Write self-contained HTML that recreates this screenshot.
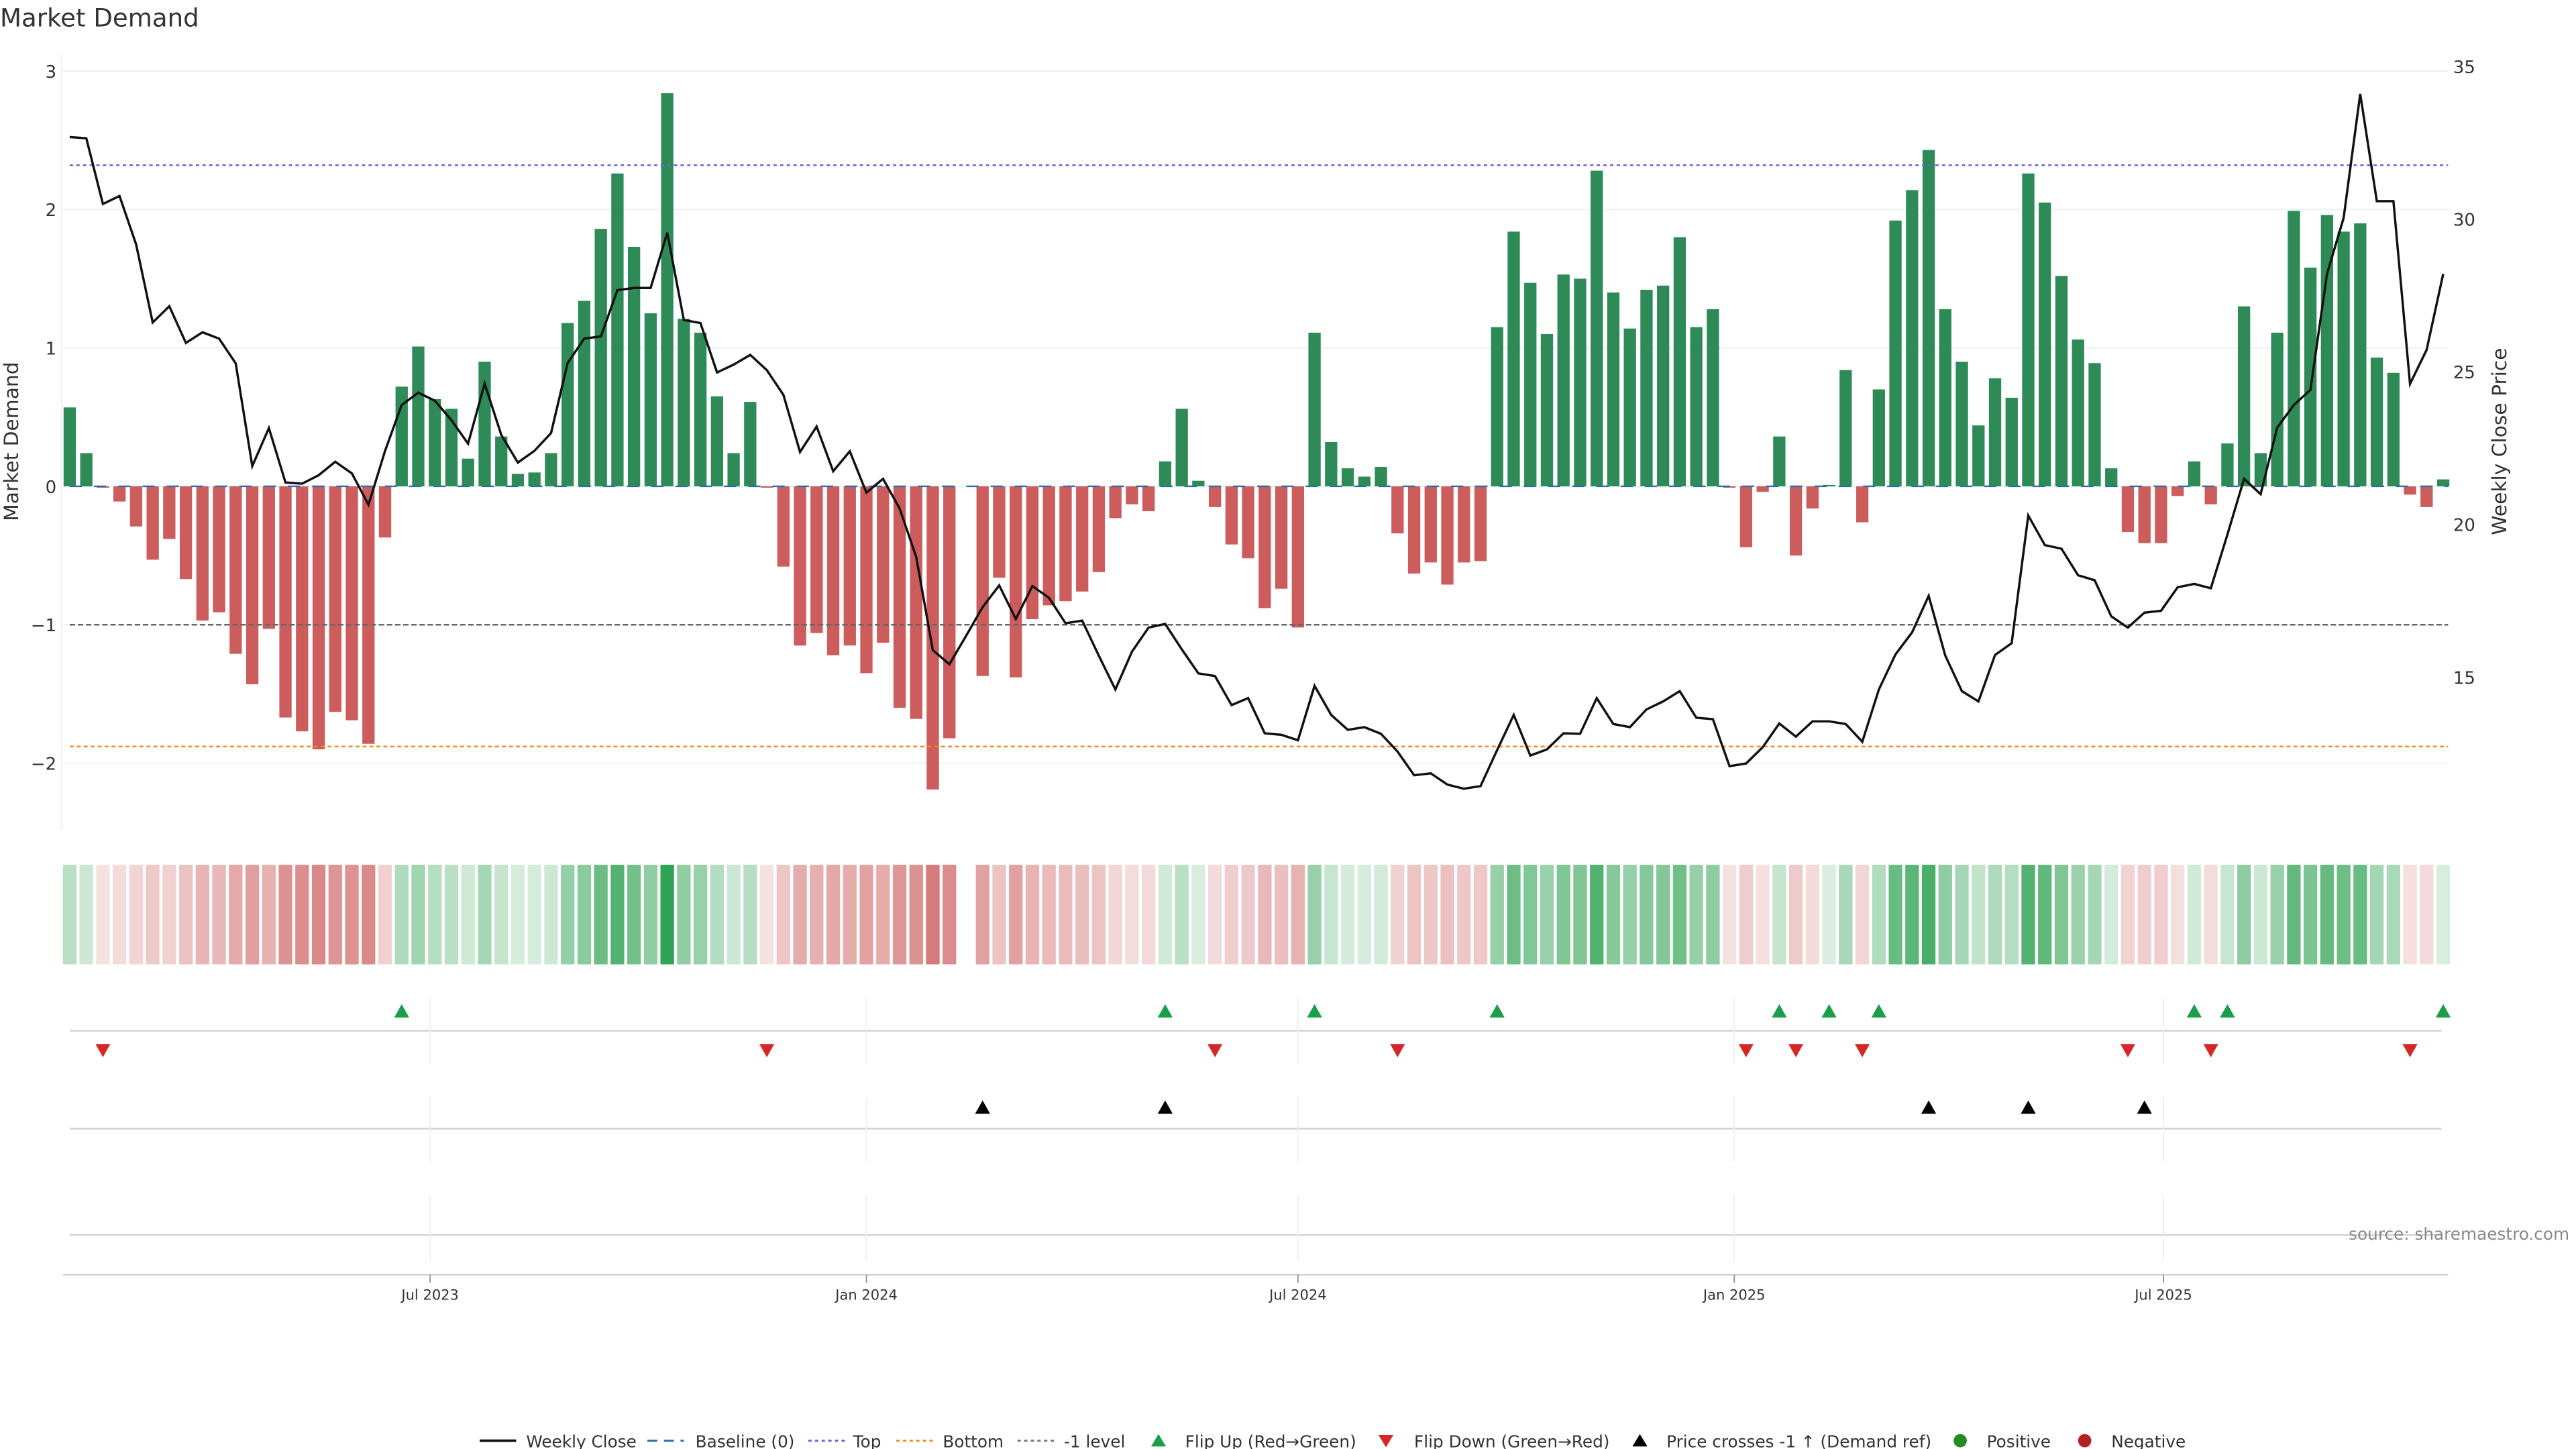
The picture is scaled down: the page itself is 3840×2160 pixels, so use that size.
<!DOCTYPE html>
<html><head><meta charset="utf-8"><title>Market Demand</title>
<style>
html,body{margin:0;padding:0;background:#fff;}
svg{display:block;font-family:"DejaVu Sans","Liberation Sans",sans-serif;}
</style></head>
<body>
<svg id="chart" width="3840" height="2160" viewBox="0 0 1552 873" preserveAspectRatio="none" xmlns="http://www.w3.org/2000/svg">
<rect x="0" y="0" width="1552" height="873" fill="#fff"/>
<text x="0" y="16" font-size="15" fill="#333">Market Demand</text>
<g id="grid"></g><g id="lower"></g><g id="bars"></g><g id="refs"></g><g id="line"></g><g id="heat"></g><g id="marks"></g><g id="axes"></g>
<text transform="translate(11,266) rotate(-90)" text-anchor="middle" font-size="12" fill="#333">Market Demand</text>
<text transform="translate(1510,266) rotate(-90)" text-anchor="middle" font-size="12" fill="#333">Weekly Close Price</text>
<text x="1548" y="747" text-anchor="end" font-size="10" fill="#888">source: sharemaestro.com</text>
<g id="legend"></g>
</svg>
<script>
const demand = [0.57,0.24,-0.01,-0.11,-0.29,-0.53,-0.38,-0.67,-0.97,-0.91,-1.21,-1.43,-1.03,-1.67,-1.77,-1.90,-1.63,-1.69,-1.86,-0.37,
0.72,1.01,0.63,0.56,0.20,0.90,0.36,0.09,0.10,0.24,1.18,1.34,1.86,2.26,1.73,1.25,2.84,1.21,1.11,0.65,0.24,0.61,-0.01,-0.58,-1.15,-1.06,-1.22,-1.15,-1.35,-1.13,
-1.60,-1.68,-2.19,-1.82,null,-1.37,-0.66,-1.38,-0.96,-0.86,-0.83,-0.76,-0.62,-0.23,-0.13,-0.18,0.18,0.56,0.04,-0.15,-0.42,-0.52,-0.88,-0.74,-1.02,1.11,0.32,0.13,0.07,0.14,
-0.34,-0.63,-0.55,-0.71,-0.55,-0.54,1.15,1.84,1.47,1.10,1.53,1.50,2.28,1.40,1.14,1.42,1.45,1.80,1.15,1.28,-0.01,-0.44,-0.04,0.36,-0.50,-0.16,0.01,0.84,-0.26,0.70,
1.92,2.14,2.43,1.28,0.90,0.44,0.78,0.64,2.26,2.05,1.52,1.06,0.89,0.13,-0.33,-0.41,-0.41,-0.07,0.18,-0.13,0.31,1.30,0.24,1.11,1.99,1.58,1.96,1.84,1.90,0.93,0.82,-0.06,-0.15,0.05];
const price = [32.74,32.70,30.55,30.81,29.23,26.67,27.20,26.00,26.35,26.14,25.33,21.97,23.21,21.43,21.39,21.67,22.11,21.73,20.70,22.47,
23.97,24.37,24.11,23.47,22.70,24.67,22.99,22.08,22.47,23.05,25.34,26.14,26.21,27.73,27.80,27.80,29.61,26.75,26.65,25.03,25.29,25.61,25.11,24.30,22.43,23.26,21.80,22.45,21.10,21.55,
20.58,18.99,15.94,15.48,16.40,17.35,18.06,16.96,18.04,17.65,16.82,16.91,15.76,14.65,15.89,16.68,16.80,15.97,15.18,15.09,14.14,14.37,13.22,13.17,12.99,14.77,13.82,13.33,13.42,13.20,
12.62,11.84,11.91,11.54,11.40,11.49,12.67,13.82,12.49,12.69,13.22,13.20,14.37,13.52,13.42,14.00,14.26,14.60,13.73,13.68,12.14,12.23,12.76,13.54,13.11,13.61,13.61,13.52,12.94,14.65,
15.80,16.52,17.72,15.76,14.60,14.26,15.78,16.17,20.35,19.38,19.26,18.39,18.23,17.05,16.68,17.17,17.23,18.00,18.11,17.97,19.73,21.55,21.05,23.23,23.97,24.46,28.26,30.09,34.15,30.64,30.64,24.66,25.77,28.26];
const flipUp = [20,66,75,86,103,106,109,128,130,143];
const flipDown = [2,42,69,80,101,104,108,124,129,141];
const priceCross = [55,66,112,118,125];
const demandTicks = [3,2,1,0,-1,-2];
const priceTicks = [35,30,25,20,15];
const dateTicks = ["2023-07-01","2024-01-01","2024-07-01","2025-01-01","2025-07-01"];
const dateTickLabels = ["Jul 2023","Jan 2024","Jul 2024","Jan 2025","Jul 2025"];
const topLevel = 2.32, bottomLevel = -1.88, minusOne = -1;
const startDate = "2023-01-30";

const NS="http://www.w3.org/2000/svg";
function mk(parent,tag,attrs){const e=document.createElementNS(NS,tag);for(const k in attrs)e.setAttribute(k,attrs[k]);document.getElementById(parent).appendChild(e);return e;}
const t0=Date.parse(startDate);
function xDate(s){return 42+(Date.parse(s)-t0)/86400000*10/7;}
function xi(i){return 42+i*10;}
function yD(v){return 293-v*83.4;}
function yP(p){return 41+(35-p)*18.4;}
const X0=38,X1=1475;

// grid + left ticks
demandTicks.forEach(v=>{
  const g=mk('grid','line',{x1:X0,x2:X1,y1:yD(v),y2:yD(v),stroke:'#edf0f2','stroke-width':0.8});
  
  
  const t=mk('axes','text',{x:34,y:yD(v)+4,'text-anchor':'end','font-size':10.5,fill:'#333'});
  t.textContent=v<0?'\u2212'+Math.abs(v):String(v);
  
  
});
mk('grid','line',{x1:37,x2:37,y1:33,y2:500,stroke:'#edf0f2','stroke-width':0.8});
priceTicks.forEach(p=>{
  const t=mk('axes','text',{x:1478,y:yP(p)+3,'font-size':10.5,fill:'#333'});
  t.textContent=String(p);
  
  
});

// bars
demand.forEach((v,i)=>{
  if(v===null)return;
  const y=v>=0?yD(v):yD(0), h=Math.max(Math.abs(v)*83.4,0.6);
  const r=mk('bars','rect',{x:xi(i)-3.7,y:y,width:7.4,height:h,fill:v>=0?'#2e8b57':'#cd5c5c'});
  
  
});

// reference lines
function ref(v,col,dash,name){const l=mk('refs','line',{x1:42,x2:1475,y1:yD(v),y2:yD(v),stroke:col,'stroke-width':1,'stroke-dasharray':dash});
  
  }
ref(0,'#2b6fa8','7.4 7.2','baseline-zero');
ref(topLevel,'#7060d8','2 2','top-level-line');
ref(bottomLevel,'#f08c1a','2.4 1.8','bottom-level-line');
ref(minusOne,'#666','3.2 1.7','minus-one-level-line');

// price line
const pts=price.map((p,i)=>xi(i).toFixed(1)+','+yP(p).toFixed(1)).join(' ');
const pl=mk('line','polyline',{points:pts,fill:'none',stroke:'#111','stroke-width':1.4,'stroke-linejoin':'miter'});



// heatmap
function heatColor(v){
  const m=2.84, t=0.18+0.82*Math.min(Math.abs(v)/m,1);
  const c=v>=0?[49,163,84]:[205,92,92];
  const mixv=k=>Math.round(255+(c[k]-255)*t);
  return 'rgb('+mixv(0)+','+mixv(1)+','+mixv(2)+')';
}
demand.forEach((v,i)=>{
  if(v===null)return;
  const r=mk('heat','rect',{x:xi(i)-4.1,y:521,width:8.2,height:60,fill:heatColor(v)});
  
  
});

// lower panels
[621,680,744].forEach(y=>{const l=mk('lower','line',{x1:42,x2:1471,y1:y,y2:y,stroke:'#d0d0d0','stroke-width':1});
  
  });
const ax=mk('lower','line',{x1:38,x2:1475,y1:768,y2:768,stroke:'#d0d0d0','stroke-width':1});


dateTicks.forEach((d,k)=>{
  const x=xDate(d);
  [[601,641],[661,700],[720,760]].forEach(s=>mk('lower','line',{x1:x,x2:x,y1:s[0],y2:s[1],stroke:'#eef0f2','stroke-width':0.8}));
  mk('lower','line',{x1:x,x2:x,y1:768,y2:773,stroke:'#999','stroke-width':0.8});
  const t=mk('axes','text',{x:x,y:783,'text-anchor':'middle','font-size':8.5,fill:'#333'});
  t.textContent=dateTickLabels[k];
  
  
});

// markers
function tri(i,y,up,col,name){
  const x=xi(i);
  const d=up?`M${x-4.5},${y+4} L${x+4.5},${y+4} L${x},${y-4} Z`:`M${x-4.5},${y-4} L${x+4.5},${y-4} L${x},${y+4} Z`;
  const p=mk('marks','path',{d:d,fill:col});
  
  
}
flipUp.forEach(i=>tri(i,609,true,'#1a9e4a','flip-up-marker'));
flipDown.forEach(i=>tri(i,633,false,'#d62728','flip-down-marker'));
priceCross.forEach(i=>tri(i,667,true,'#000','price-cross-marker'));

// legend
const LY=868;
function ltext(x,s,name){const t=mk('legend','text',{x:x,y:LY+4,'font-size':10,fill:'#333'});t.textContent=s;
  
  }
function lline(x,col,dash,w){mk('legend','line',{x1:x,x2:x+22,y1:LY,y2:LY,stroke:col,'stroke-width':w,'stroke-dasharray':dash});}
lline(289,'#111','',1.5); ltext(317,'Weekly Close','legend-weekly-close');
lline(390,'#2b6fa8','6 4',1.2); ltext(419,'Baseline (0)','legend-baseline');
lline(487,'#7060d8','2 2',1.2); ltext(514,'Top','legend-top');
lline(540,'#f08c1a','2 2',1.2); ltext(568,'Bottom','legend-bottom');
lline(613,'#777','2 2',1.2); ltext(641,'-1 level','legend-minus-one');
function ltri(x,up,col){mk('legend','path',{d:up?`M${x-4.5},${LY+3.5} L${x+4.5},${LY+3.5} L${x},${LY-4} Z`:`M${x-4.5},${LY-3.5} L${x+4.5},${LY-3.5} L${x},${LY+4} Z`,fill:col});}
ltri(698,true,'#1a9e4a'); ltext(714,'Flip Up (Red\u2192Green)','legend-flip-up');
ltri(835,false,'#d62728'); ltext(852,'Flip Down (Green\u2192Red)','legend-flip-down');
ltri(988,true,'#000'); ltext(1004,'Price crosses -1 \u2191 (Demand ref)','legend-price-cross');
mk('legend','circle',{cx:1181,cy:LY,r:4,fill:'#228b22'}); ltext(1197,'Positive','legend-positive');
mk('legend','circle',{cx:1256,cy:LY,r:4,fill:'#b22222'}); ltext(1272,'Negative','legend-negative');
</script>
</body></html>
